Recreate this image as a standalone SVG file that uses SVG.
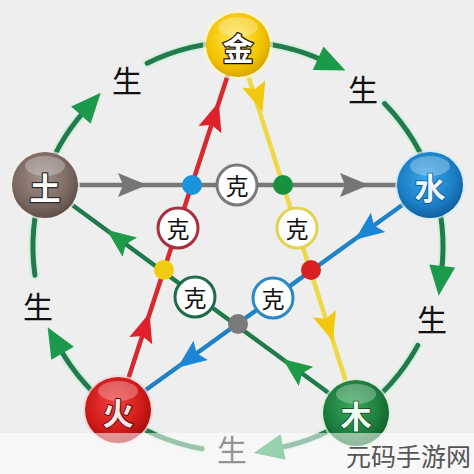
<svg xmlns="http://www.w3.org/2000/svg" width="474" height="474" viewBox="0 0 474 474">
<style>
.arc{fill:none;stroke:#237a4c;stroke-width:5;stroke-linecap:round}
.glow{fill:none;stroke:#c9f0dc;stroke-width:9;stroke-linecap:round;opacity:.8}
.sheng{font-family:"Noto Sans CJK SC","Noto Sans",sans-serif;font-size:30px;fill:#111;text-anchor:middle;dominant-baseline:central}
.ke{font-family:"Noto Sans CJK SC","Noto Sans",sans-serif;font-size:23px;fill:#111;text-anchor:middle;dominant-baseline:central}
.kec{fill:#fff;stroke-width:3}
.nl{font-family:"Noto Sans CJK SC","Noto Sans",sans-serif;font-size:31px;font-weight:bold;fill:#fff;text-anchor:middle;dominant-baseline:central;stroke:#2a2a2a;stroke-width:2.5;paint-order:stroke;stroke-linejoin:round}
.sl{fill:none;stroke-width:4.5;stroke-linecap:round}
.ah{fill:none;stroke:none}
.gloss{fill:#fff;opacity:.28}
</style>
<defs>
<marker id="mg" markerUnits="userSpaceOnUse" markerWidth="60" markerHeight="60" refX="0" refY="0" orient="auto" overflow="visible"><path d="M-5,-13 L25,0 L-5,13 Z" fill="#1c9a4b"/></marker>
<marker id="mr" markerUnits="userSpaceOnUse" markerWidth="60" markerHeight="60" refX="0" refY="0" orient="auto" overflow="visible"><path d="M-3,-12 L26,0 L-3,12 L2,0 Z" fill="#e0212b"/></marker>
<marker id="my" markerUnits="userSpaceOnUse" markerWidth="60" markerHeight="60" refX="0" refY="0" orient="auto" overflow="visible"><path d="M-3,-12 L26,0 L-3,12 L2,0 Z" fill="#f2c80f"/></marker>
<marker id="mgs" markerUnits="userSpaceOnUse" markerWidth="60" markerHeight="60" refX="0" refY="0" orient="auto" overflow="visible"><path d="M-3,-12 L26,0 L-3,12 L2,0 Z" fill="#1e9a48"/></marker>
<marker id="mb" markerUnits="userSpaceOnUse" markerWidth="60" markerHeight="60" refX="0" refY="0" orient="auto" overflow="visible"><path d="M-3,-12 L26,0 L-3,12 L2,0 Z" fill="#1b86d6"/></marker>
<marker id="mk" markerUnits="userSpaceOnUse" markerWidth="60" markerHeight="60" refX="0" refY="0" orient="auto" overflow="visible"><path d="M-3,-12 L26,0 L-3,12 L2,0 Z" fill="#767676"/></marker>
<radialGradient id="gJin" cx="45%" cy="40%" r="60%"><stop offset="0" stop-color="#ffe65a"/><stop offset="0.7" stop-color="#f4c400"/><stop offset="1" stop-color="#d9a800"/></radialGradient>
<radialGradient id="gTu" cx="45%" cy="40%" r="60%"><stop offset="0" stop-color="#a29189"/><stop offset="0.7" stop-color="#7b6961"/><stop offset="1" stop-color="#5e4f48"/></radialGradient>
<radialGradient id="gShui" cx="45%" cy="40%" r="60%"><stop offset="0" stop-color="#3aa6ea"/><stop offset="0.7" stop-color="#1a7fc6"/><stop offset="1" stop-color="#10609e"/></radialGradient>
<radialGradient id="gHuo" cx="45%" cy="40%" r="60%"><stop offset="0" stop-color="#f04040"/><stop offset="0.7" stop-color="#d01a1a"/><stop offset="1" stop-color="#a80e0e"/></radialGradient>
<radialGradient id="gMu" cx="45%" cy="40%" r="60%"><stop offset="0" stop-color="#3aa85a"/><stop offset="0.7" stop-color="#1c7c3c"/><stop offset="1" stop-color="#12602c"/></radialGradient>
</defs>
<rect width="474" height="474" fill="#eeeeee"/>

<g id="connectors">
  <g id="outer-cycle">
    <path class="glow" d="M42.8,184.3 A205,205 0 0 1 84.2,111.4"/>
    <path class="glow" d="M147.2,63.2 A205,205 0 0 1 238,42"/>
    <path class="glow" d="M238,42 A205,205 0 0 1 322.7,60.3"/>
    <path class="glow" d="M384.5,103.6 A205,205 0 0 1 433.1,184"/>
    <path class="glow" d="M433.1,184 A205,205 0 0 1 441.6,270.9"/>
    <path class="glow" d="M417.8,345.4 A205,205 0 0 1 356.8,414.1"/>
    <path class="glow" d="M356.8,414.1 A205,205 0 0 1 278.2,448"/>
    <path class="glow" d="M202,448.8 A205,205 0 0 1 116.4,412"/>
    <path class="glow" d="M116.4,412 A205,205 0 0 1 60.1,348.9"/>
    <path class="glow" d="M34.9,275.2 A205,205 0 0 1 42.8,184.3"/>

    <path class="arc" marker-end="url(#mg)" d="M42.8,184.3 A205,205 0 0 1 84.2,111.4"/>
    <path class="arc" d="M147.2,63.2 A205,205 0 0 1 238,42"/>
    <path class="arc" marker-end="url(#mg)" d="M238,42 A205,205 0 0 1 322.7,60.3"/>
    <path class="arc" d="M384.5,103.6 A205,205 0 0 1 433.1,184"/>
    <path class="arc" marker-end="url(#mg)" d="M433.1,184 A205,205 0 0 1 441.6,270.9"/>
    <path class="arc" d="M417.8,345.4 A205,205 0 0 1 356.8,414.1"/>
    <path class="arc" marker-end="url(#mg)" d="M356.8,414.1 A205,205 0 0 1 278.2,448"/>
    <path class="arc" d="M202,448.8 A205,205 0 0 1 116.4,412"/>
    <path class="arc" marker-end="url(#mg)" d="M116.4,412 A205,205 0 0 1 60.1,348.9"/>
    <path class="arc" d="M34.9,275.2 A205,205 0 0 1 42.8,184.3"/>
  </g>
  <g id="star">
    <line class="sl" stroke="#777777" x1="45" y1="185" x2="430" y2="185"/>
    <line class="sl" stroke="#d42a30" x1="118" y1="410" x2="238" y2="44"/>
    <line class="sl" stroke="#eed84a" x1="238" y1="44" x2="356" y2="413"/>
    <line class="sl" stroke="#1f7a4c" x1="356" y1="413" x2="45" y2="185"/>
    <line class="sl" stroke="#1f82c4" x1="430" y1="185" x2="118" y2="410"/>
    <path class="ah" marker-end="url(#mr)" d="M141.1,339.7 L141.7,337.8"/>
    <path class="ah" marker-end="url(#mr)" d="M210.3,128.6 L210.9,126.7"/>
    <path class="ah" marker-end="url(#my)" d="M254.1,85 L254.7,86.9"/>
    <path class="ah" marker-end="url(#my)" d="M324.7,314.9 L325.3,316.8"/>
    <path class="ah" marker-end="url(#mgs)" d="M305.2,375.8 L303.6,374.6"/>
    <path class="ah" marker-end="url(#mgs)" d="M129,246.6 L127.4,245.4"/>
    <path class="ah" marker-end="url(#mb)" d="M377.3,223 L375.7,224.2"/>
    <path class="ah" marker-end="url(#mb)" d="M199.9,350.9 L198.3,352.1"/>
    <path class="ah" marker-end="url(#mk)" d="M119,185 L121,185"/>
    <path class="ah" marker-end="url(#mk)" d="M341,185 L343,185"/>
  </g>
</g>

<g id="junctions">
  <circle cx="192" cy="185" r="10" fill="#1a93dc"/>
  <circle cx="283" cy="185" r="10" fill="#17913e"/>
  <circle cx="164" cy="270" r="10" fill="#f2cc12"/>
  <circle cx="311" cy="270" r="10" fill="#d81f22"/>
  <circle cx="238" cy="324" r="10" fill="#7a7a7a"/>
</g>

<g id="ke-labels">
  <g id="ke-top"><circle class="kec" cx="237" cy="185" r="20" stroke="#7a7a7a"/><text class="ke" x="237" y="185">克</text></g>
  <g id="ke-left"><circle class="kec" cx="178" cy="228" r="20" stroke="#a8303c"/><text class="ke" x="178" y="228">克</text></g>
  <g id="ke-right"><circle class="kec" cx="297" cy="228" r="20" stroke="#e2d452"/><text class="ke" x="297" y="228">克</text></g>
  <g id="ke-lowleft"><circle class="kec" cx="195" cy="297" r="20" stroke="#1e6c48"/><text class="ke" x="195" y="297">克</text></g>
  <g id="ke-lowright"><circle class="kec" cx="273" cy="298" r="20" stroke="#2a88c2"/><text class="ke" x="273" y="298">克</text></g>
</g>

<g id="sheng-labels">
  <text class="sheng" x="127" y="79">生</text>
  <text class="sheng" x="363" y="88">生</text>
  <text class="sheng" x="432" y="318">生</text>
  <text class="sheng" x="38" y="305">生</text>
  <text class="sheng" x="232" y="448">生</text>
</g>

<g id="node-jin">
  <circle cx="238" cy="45" r="35" fill="#fff6c8" opacity=".7"/>
  <circle cx="238" cy="45" r="32" fill="url(#gJin)"/>
  <ellipse class="gloss" cx="238" cy="27" rx="20" ry="10"/>
  <text class="nl" x="238" y="46" style="stroke:#111">金</text>
</g>
<g id="node-tu">
  <circle cx="45" cy="185" r="35" fill="#f4eee9" opacity=".7"/>
  <circle cx="45" cy="185" r="33" fill="url(#gTu)"/>
  <ellipse class="gloss" cx="45" cy="166" rx="20" ry="10"/>
  <text class="nl" x="45" y="186">土</text>
</g>
<g id="node-shui">
  <circle cx="430" cy="185" r="35" fill="#cdeafc" opacity=".7"/>
  <circle cx="430" cy="185" r="33" fill="url(#gShui)"/>
  <ellipse class="gloss" cx="430" cy="166" rx="20" ry="10"/>
  <text class="nl" x="430" y="186" style="stroke:#0d4f80;stroke-width:1.5;fill:#eaf6ff">水</text>
</g>
<g id="node-huo">
  <circle cx="118" cy="410" r="35" fill="#fcd0d0" opacity=".7"/>
  <circle cx="118" cy="410" r="33" fill="url(#gHuo)"/>
  <ellipse class="gloss" cx="118" cy="391" rx="20" ry="10"/>
  <text class="nl" x="118" y="411" style="fill:#fde6e6;stroke:#5a0a0a;stroke-width:2">火</text>
</g>
<g id="node-mu">
  <circle cx="356" cy="413" r="35" fill="#d2f0da" opacity=".7"/>
  <circle cx="356" cy="413" r="33" fill="url(#gMu)"/>
  <ellipse class="gloss" cx="356" cy="394" rx="20" ry="10"/>
  <text class="nl" x="356" y="414" style="stroke:#0d4020;stroke-width:1.5;fill:#f0fff4">木</text>
</g>

<rect x="0" y="433" width="474" height="41" fill="#ffffff" opacity=".55"/>
<text x="346" y="466" style="font-family:'Noto Sans CJK SC','Noto Sans',sans-serif;font-size:25px;fill:#555">元码手游网</text>
</svg>
